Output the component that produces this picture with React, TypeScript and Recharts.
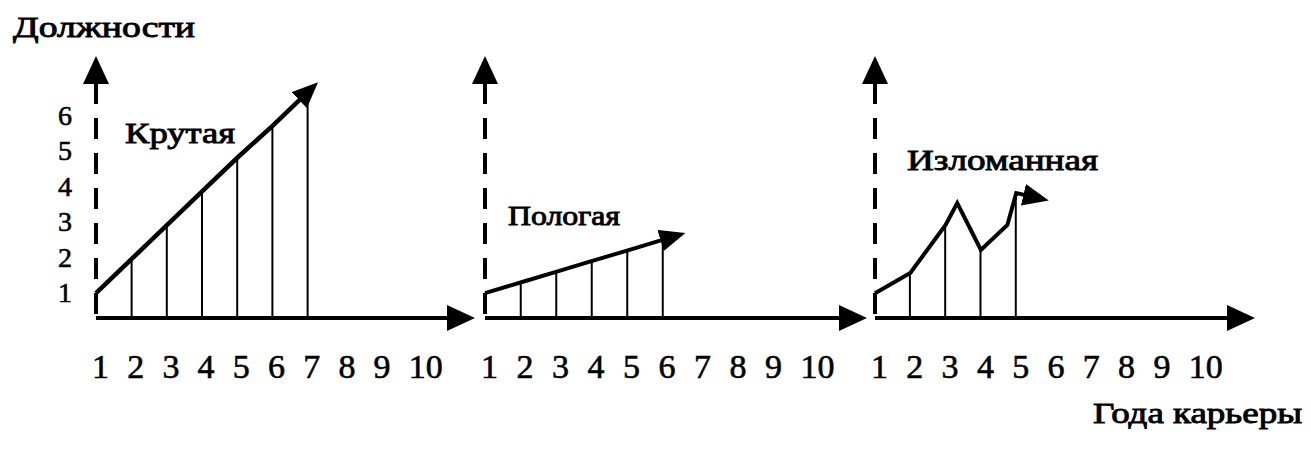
import React from "react";
import { ComposedChart, Line, Bar, XAxis, YAxis } from "recharts";

// шкалы
const years = [1, 2, 3, 4, 5, 6, 7, 8, 9, 10];
const posts = [1, 2, 3, 4, 5, 6];

// Крутая
const steepYears = [1, 2, 3, 4, 5, 6, 7];
const steepPosts = [1.0, 1.95, 2.9, 3.85, 4.8, 5.7, 6.65];

// Пологая
const gentleYears = [1, 2, 3, 4, 5, 6];
const gentlePosts = [1.0, 1.3, 1.6, 1.9, 2.2, 2.5];

// Изломанная
const brokenYears = [1, 2, 3, 3.33, 4, 4.75, 5, 5.26];
const brokenPosts = [1.0, 1.57, 2.92, 3.54, 2.22, 2.92, 3.82, 3.76];

const FONT = "'Liberation Serif', 'Times New Roman', serif";
const H = 420;
const PLOT_TOP = 83;
const PLOT_BOTTOM = 318;
const X_AXIS_H = 30;
const Y_AXIS_W = 40;

const build = (xs: number[], ys: number[]) =>
  xs.map((x, i) => ({
    x,
    y: ys[i],
    drop: Number.isInteger(x) && x > 1 ? ys[i] : null,
  }));

const XTick = (props: any) => {
  const { x, y, payload } = props;
  return (
    <text
      x={x - 4}
      y={y + 60}
      textAnchor="start"
      fontFamily={FONT}
      fontSize={34}
      fill="#000"
      stroke="#000"
      strokeWidth={0.6}
    >
      {payload.value}
    </text>
  );
};

const YTick = (props: any) => {
  const { x, y, payload } = props;
  return (
    <text
      x={x - 24}
      y={y + 9}
      textAnchor="end"
      fontFamily={FONT}
      fontSize={28}
      fill="#000"
      stroke="#000"
      strokeWidth={0.6}
    >
      {payload.value}
    </text>
  );
};

interface PanelProps {
  left: number;
  width: number;
  plotLeft: number;
  plotRight: number;
  xs: number[];
  ys: number[];
  showTicks?: boolean;
  arrowId: string;
  lineWidth: number;
}

function Panel({ left, width, plotLeft, plotRight, xs, ys, showTicks, arrowId, lineWidth }: PanelProps) {
  const data = build(xs, ys);
  return (
    <div style={{ position: "absolute", left, top: 0 }}>
      <ComposedChart
        width={width}
        height={H}
        data={data}
        margin={{
          top: PLOT_TOP,
          bottom: H - PLOT_BOTTOM - X_AXIS_H,
          left: plotLeft - left - Y_AXIS_W,
          right: left + width - plotRight,
        }}
      >
        <XAxis
          type="number"
          dataKey="x"
          domain={[1, 11]}
          ticks={years}
          interval={0}
          height={X_AXIS_H}
          tickLine={false}
          tickSize={0}
          tickMargin={0}
          axisLine={{ stroke: "#000", strokeWidth: 4, markerEnd: "url(#axisArrow)" }}
          tick={<XTick />}
        />
        <YAxis
          type="number"
          domain={[0.3, 6.92]}
          ticks={posts}
          interval={0}
          width={Y_AXIS_W}
          tickLine={false}
          tickSize={0}
          tickMargin={0}
          axisLine={{
            stroke: "#000",
            strokeWidth: 4,
            strokeDasharray: "21 14",
            markerStart: "url(#axisArrow)",
          }}
          tick={showTicks ? <YTick /> : false}
        />
        <Bar dataKey="drop" fill="#000" barSize={2} isAnimationActive={false} />
        <Line
          type="linear"
          dataKey="y"
          stroke="#000"
          strokeWidth={lineWidth}
          dot={false}
          activeDot={false}
          markerEnd={`url(#${arrowId})`}
          isAnimationActive={false}
        />
      </ComposedChart>
    </div>
  );
}

export default function App() {
  return (
    <div
      style={{
        position: "relative",
        width: 1311,
        height: 451,
        margin: "-8px 0 0 -8px",
        background: "#fff",
      }}
    >
      <svg width={0} height={0} style={{ position: "absolute" }}>
        <defs>
          <marker
            id="axisArrow"
            markerUnits="userSpaceOnUse"
            viewBox="0 0 28 26"
            markerWidth={28}
            markerHeight={26}
            refX={1}
            refY={13}
            orient="auto-start-reverse"
          >
            <path d="M0,0 L28,13 L0,26 Z" fill="#000" />
          </marker>
          <marker
            id="lineArrowA"
            markerUnits="userSpaceOnUse"
            viewBox="0 0 26 22"
            markerWidth={26}
            markerHeight={22}
            refX={11}
            refY={11}
            orient="auto"
          >
            <path d="M0,0 L26,11 L0,22 Z" fill="#000" />
          </marker>
          <marker
            id="lineArrowB"
            markerUnits="userSpaceOnUse"
            viewBox="0 0 26 22"
            markerWidth={26}
            markerHeight={22}
            refX={2}
            refY={11}
            orient="auto"
          >
            <path d="M0,0 L26,11 L0,22 Z" fill="#000" />
          </marker>
        </defs>
      </svg>

      <Panel left={0} width={490} plotLeft={96} plotRight={448} xs={steepYears} ys={steepPosts} showTicks arrowId="lineArrowA" lineWidth={4.5} />
      <Panel left={445} width={440} plotLeft={485} plotRight={840} xs={gentleYears} ys={gentlePosts} arrowId="lineArrowB" lineWidth={4} />
      <Panel left={835} width={440} plotLeft={875} plotRight={1228} xs={brokenYears} ys={brokenPosts} arrowId="lineArrowB" lineWidth={4} />

      <svg
        width={1311}
        height={451}
        style={{ position: "absolute", left: 0, top: 0, pointerEvents: "none" }}
        fontFamily={FONT}
        fill="#000"
        stroke="#000"
        strokeWidth={0.9}
      >
        <text x={13} y={37} fontSize={30} textLength={182} lengthAdjust="spacingAndGlyphs">
          Должности
        </text>
        <text x={125} y={143} fontSize={30} textLength={110} lengthAdjust="spacingAndGlyphs">
          Крутая
        </text>
        <text x={508} y={225} fontSize={27} textLength={112} lengthAdjust="spacingAndGlyphs">
          Пологая
        </text>
        <text x={907} y={170} fontSize={30} textLength={191} lengthAdjust="spacingAndGlyphs">
          Изломанная
        </text>
        <text x={1093} y={423} fontSize={30} textLength={209} lengthAdjust="spacingAndGlyphs">
          Года карьеры
        </text>
      </svg>
    </div>
  );
}
